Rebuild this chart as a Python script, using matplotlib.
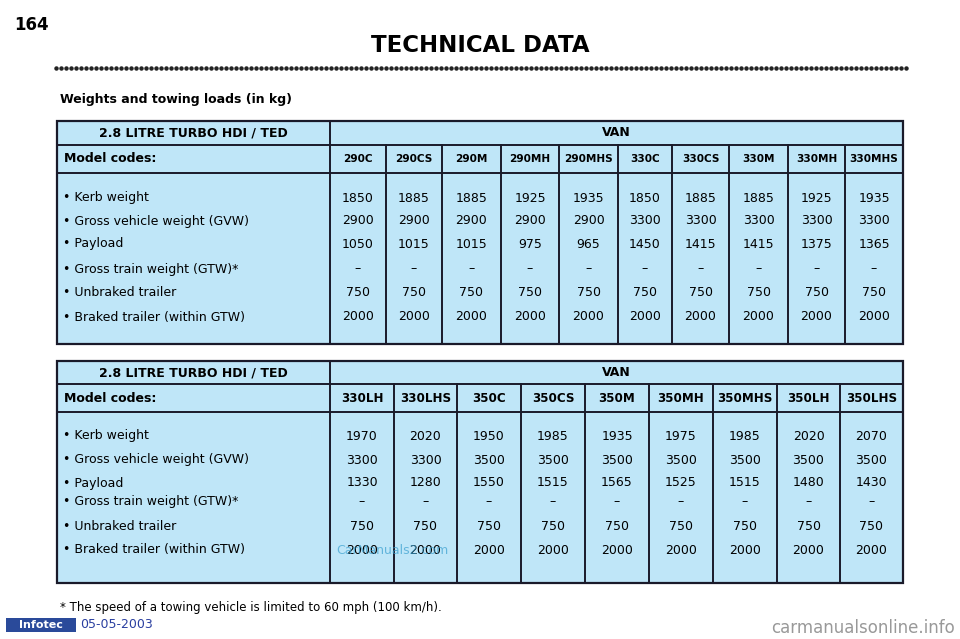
import matplotlib
matplotlib.use("Agg")
import matplotlib.pyplot as plt
from matplotlib.patches import Rectangle

row_labels = ["• Kerb weight", "• Gross vehicle weight (GVW)", "• Payload",
              "• Gross train weight (GTW)*", "• Unbraked trailer", "• Braked trailer (within GTW)"]
models1 = ["290C", "290CS", "290M", "290MH", "290MHS", "330C", "330CS", "330M", "330MH", "330MHS"]
kerb1 = [1850, 1885, 1885, 1925, 1935, 1850, 1885, 1885, 1925, 1935]
gvw1 = [2900, 2900, 2900, 2900, 2900, 3300, 3300, 3300, 3300, 3300]
payload1 = [1050, 1015, 1015, 975, 965, 1450, 1415, 1415, 1375, 1365]
gtw1 = ["–"] * 10
unbraked1 = [750] * 10
braked1 = [2000] * 10

models2 = ["330LH", "330LHS", "350C", "350CS", "350M", "350MH", "350MHS", "350LH", "350LHS"]
kerb2 = [1970, 2020, 1950, 1985, 1935, 1975, 1985, 2020, 2070]
gvw2 = [3300, 3300, 3500, 3500, 3500, 3500, 3500, 3500, 3500]
payload2 = [1330, 1280, 1550, 1515, 1565, 1525, 1515, 1480, 1430]
gtw2 = ["–"] * 9
unbraked2 = [750] * 9
braked2 = [2000] * 9

W, H = 960, 639
fig = plt.figure(figsize=(9.6, 6.39), dpi=100)
ax = fig.add_axes([0, 0, 1, 1])
ax.set_xlim(0, W); ax.set_ylim(H, 0); ax.axis("off")
FILL = "#bfe6f8"; LINE = "#1a1a2a"
F = "DejaVu Sans"

ax.text(14, 25, "164", fontsize=12, fontweight="bold", va="center", family=F)
ax.text(480, 46, "TECHNICAL DATA", fontsize=16.5, fontweight="bold", ha="center", va="center", family=F)
ax.plot([56 + i * 5.0 for i in range(171)], [68] * 171, ls="none", marker="o", ms=2.2, color="#222")
ax.text(60, 100, "Weights and towing loads (in kg)", fontsize=9, fontweight="bold", va="center", family=F)

def table(y0, y1, y2, y3, edges, models, rows, rowys, mfs):
    x0, xl, xr = 57, 330, 903
    ax.add_patch(Rectangle((x0, y0), xr - x0, y3 - y0, facecolor=FILL, edgecolor=LINE, lw=1.6))
    for y in (y1, y2):
        ax.plot([x0, xr], [y, y], color=LINE, lw=1.4)
    ax.plot([xl, xl], [y0, y3], color=LINE, lw=1.4)
    for e in edges[1:-1]:
        ax.plot([e, e], [y1, y3], color=LINE, lw=1.4)
    ax.text((x0 + xl) / 2, (y0 + y1) / 2, "2.8 LITRE TURBO HDI / TED", fontsize=9, fontweight="bold",
            ha="center", va="center", family=F)
    ax.text((xl + xr) / 2, (y0 + y1) / 2, "VAN", fontsize=9, fontweight="bold", ha="center", va="center", family=F)
    ax.text(64, (y1 + y2) / 2, "Model codes:", fontsize=9, fontweight="bold", va="center", family=F)
    for i, m in enumerate(models):
        cx = (edges[i] + edges[i + 1]) / 2
        ax.text(cx, (y1 + y2) / 2, m, fontsize=mfs, fontweight="bold", ha="center", va="center", family=F)
        for vals, ry in zip(rows, rowys):
            ax.text(cx, ry, str(vals[i]), fontsize=9, ha="center", va="center", family=F)
    for lab, ry in zip(row_labels, rowys):
        ax.text(63, ry, lab, fontsize=9, va="center", family=F)

edges1 = [330, 386, 442, 501, 559, 618, 672, 729, 788, 845, 903]
table(121, 145, 173, 344, edges1, models1, [kerb1, gvw1, payload1, gtw1, unbraked1, braked1],
      [198, 221, 244, 269, 293, 317], 7.6)
edges2 = [330, 394, 457, 521, 585, 649, 713, 777, 840, 903]
table(361, 384, 412, 583, edges2, models2, [kerb2, gvw2, payload2, gtw2, unbraked2, braked2],
      [436, 460, 483, 502, 526, 550], 8.6)

ax.text(336, 550, "CarManuals2.com", fontsize=9, color="#3aa0d0", alpha=0.7, va="center", family=F)
ax.text(60, 607, "* The speed of a towing vehicle is limited to 60 mph (100 km/h).", fontsize=8.5, va="center", family=F)
ax.add_patch(Rectangle((6, 618), 70, 14, facecolor="#2a4a9a", edgecolor="none"))
ax.text(41, 625, "Infotec", fontsize=8, fontweight="bold", color="white", ha="center", va="center", family=F)
ax.text(80, 625, "05-05-2003", fontsize=9, color="#2a3fa0", va="center", family=F)
ax.text(955, 628, "carmanualsonline.info", fontsize=12, color="#999999", ha="right", va="center", family=F)

fig.savefig("out.png", dpi=100, facecolor="white")
